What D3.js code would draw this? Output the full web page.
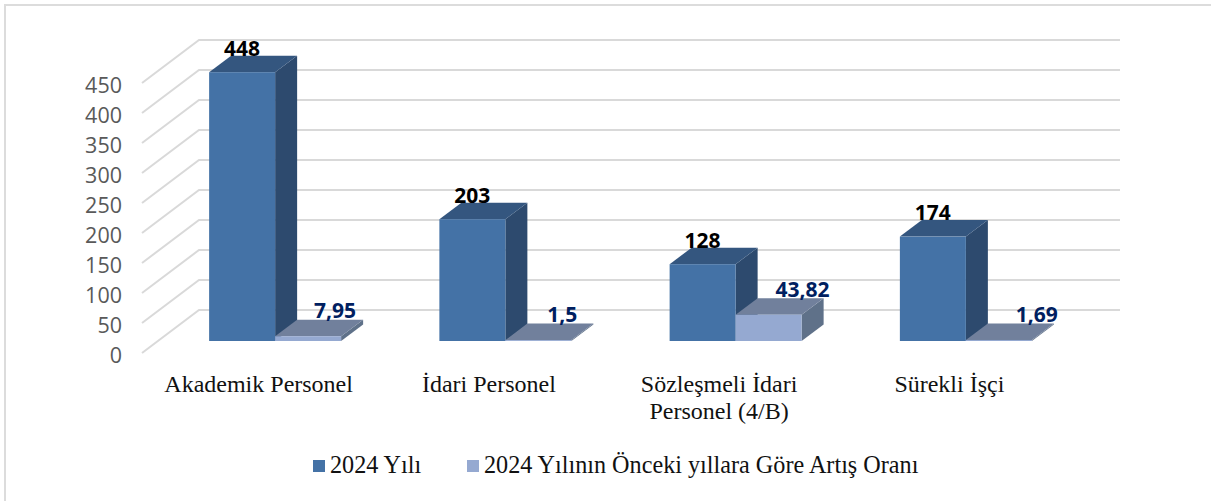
<!DOCTYPE html>
<html><head><meta charset="utf-8">
<script src="https://cdnjs.cloudflare.com/ajax/libs/d3/7.8.5/d3.min.js"></script>
<style>html,body{margin:0;padding:0;background:#fff}svg{display:block}</style>
</head><body><svg id="c" width="1211" height="501"></svg>
<script>
const categories = ["Akademik Personel","İdari Personel","Sözleşmeli İdari|Personel (4/B)","Sürekli İşçi"];
const series2024 = [448,203,128,174];
const seriesRate = [7.95,1.5,43.82,1.69];
const rateLabels = ["7,95","1,5","43,82","1,69"];
const seriesNames = ["2024 Yılı","2024 Yılının Önceki yıllara Göre Artış Oranı"];
const yTicks = [0,50,100,150,200,250,300,350,400,450];
// layout
const floorL=142, floorR=1063, floorY=353, wallDX=57, wallDY=-43;
const barDX=16, barDY=-12, depthDX=22, depthDY=-16.5, barW=66;
const rateNudgeX=[60,57,67,71];
const cols=[{f:"#4472a6",t:"#34567f",s:"#2d4a6e"},{f:"#95a9d1",t:"#71809c",s:"#5f7189"}];
const svg=d3.select("#c");
const x=d3.scaleBand().domain(categories).range([floorL,floorR]);
const y=d3.scaleLinear().domain([0,450]).range([floorY,floorY-270]);
const h=v=>floorY-y(v);

svg.append("path").attr("d","M5,501V5H1211").attr("fill","none").attr("stroke","#dcdcdc").attr("stroke-width",2);

const grid=svg.append("g").attr("fill","none").attr("stroke","#d9d9d9").attr("stroke-width",2);
grid.selectAll("path").data(yTicks).join("path")
  .attr("d",d=>{const p=d3.path();p.moveTo(floorL,y(d));p.lineTo(floorL+wallDX,y(d)+wallDY);p.lineTo(floorR+wallDX,y(d)+wallDY);return p;});

svg.append("g").attr("font-family","'Open Sans',sans-serif").attr("font-size",21.5).attr("fill","#595959")
  .attr("text-anchor","end").selectAll("text").data(yTicks).join("text")
  .attr("x",122).attr("y",d=>y(d)+2).attr("dy","0.36em").text(d=>d);

function box(g,x0,v,c){
  const base=floorY+barDY, top=base-h(v), r=x0+barW;
  const poly=(pts,fill)=>g.append("polygon").attr("points",pts.map(p=>p.join(",")).join(" ")).attr("fill",fill);
  poly([[r,base],[r+depthDX,base+depthDY],[r+depthDX,top+depthDY],[r,top]],c.s);
  poly([[x0,top],[r,top],[r+depthDX,top+depthDY],[x0+depthDX,top+depthDY]],c.t);
  g.append("rect").attr("x",x0).attr("y",top).attr("width",barW).attr("height",Math.max(base-top,0)).attr("fill",c.f);
}
const bars=svg.append("g");
categories.forEach((cat,i)=>{
  const x0=x(cat)+x.bandwidth()/2+barDX-barW+2;
  box(bars,x0,series2024[i],cols[0]);
  box(bars,x0+barW,seriesRate[i],cols[1]);
});
const lab=svg.append("g").attr("font-family","'Open Sans',sans-serif").attr("font-weight",700).attr("font-size",21).attr("text-anchor","middle");
categories.forEach((cat,i)=>{
  const x0=x(cat)+x.bandwidth()/2+barDX-barW+2, base=floorY+barDY;
  lab.append("text").attr("x",x0+barW/2).attr("y",base-h(series2024[i])-24).attr("dy","0.36em").attr("fill","#000").text(series2024[i]);
  lab.append("text").attr("x",x0+barW+rateNudgeX[i]).attr("y",base-h(seriesRate[i])-25.5).attr("dy","0.36em").attr("fill","#002060").text(rateLabels[i]);
});
const cl=svg.append("g").attr("font-family","'Liberation Serif',serif").attr("font-size",24).attr("fill","#111").attr("text-anchor","middle");
categories.forEach((cat,i)=>{
  cat.split("|").forEach((t,k)=>cl.append("text").attr("x",x(cat)+x.bandwidth()/2+1.5).attr("y",392+k*27).text(t));
});
const lg=svg.append("g").attr("font-family","'Liberation Serif',serif").attr("font-size",24.2).attr("fill","#111");
[313,467].forEach((lx,i)=>{
  lg.append("rect").attr("x",lx).attr("y",460).attr("width",12).attr("height",12).attr("fill",cols[i].f);
  lg.append("text").attr("x",lx+17).attr("y",473).text(seriesNames[i]);
});
</script></body></html>
